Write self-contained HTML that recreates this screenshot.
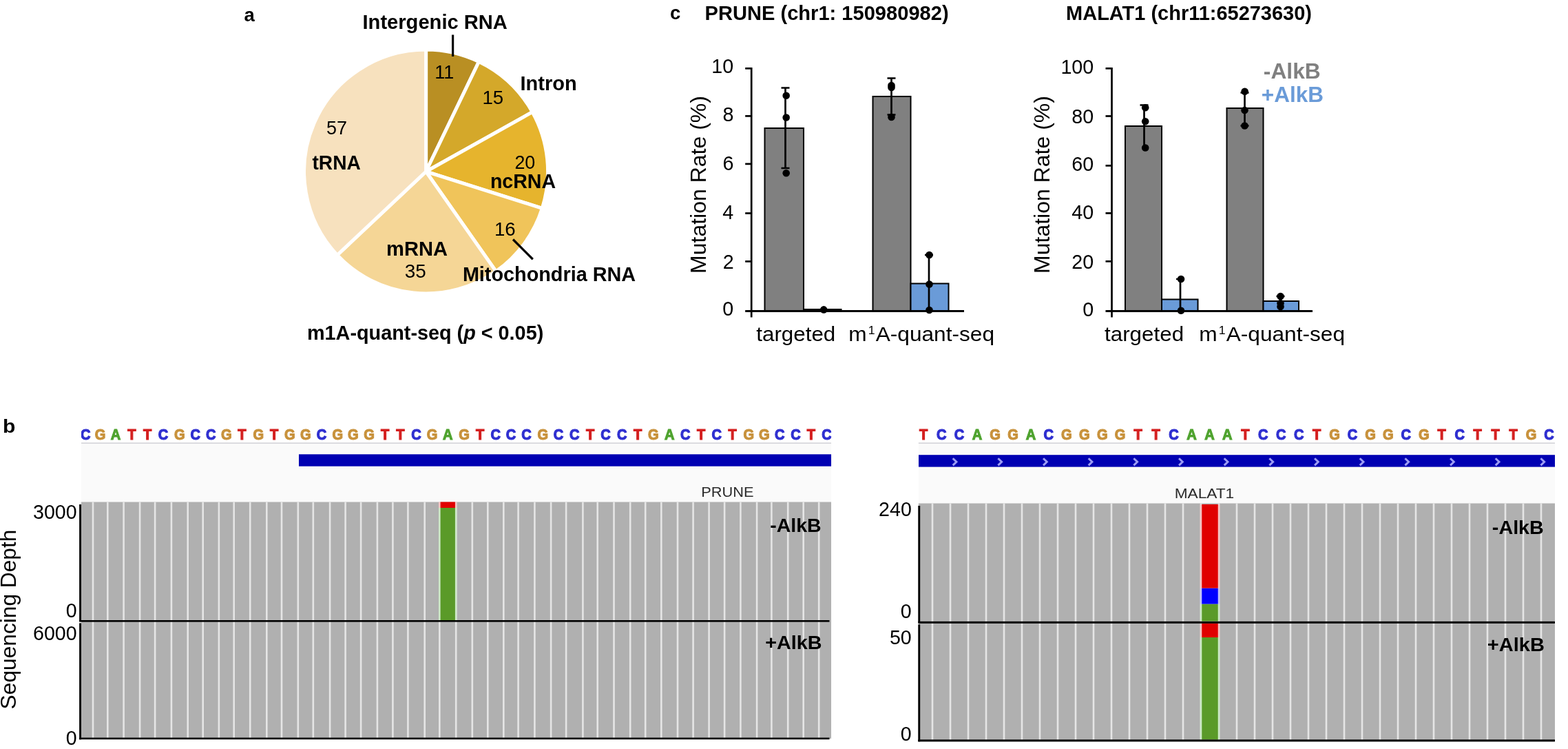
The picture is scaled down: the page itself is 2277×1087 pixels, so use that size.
<!DOCTYPE html>
<html><head><meta charset="utf-8"><title>Figure</title>
<style>
html,body{margin:0;padding:0;background:#fff;}
body{width:2277px;height:1087px;overflow:hidden;}
svg{display:block;font-family:'Liberation Sans',Arial,Helvetica,sans-serif;filter:blur(0.6px);}
</style></head>
<body>
<svg width="2277" height="1087" viewBox="0 0 2277 1087">
<rect width="2277" height="1087" fill="#fff"/>
<text transform="translate(354.48,30.6)" font-size="27.5" font-weight="bold">a</text>
<text transform="translate(4.04,627.5) scale(1.0750,1)" font-size="28" font-weight="bold">b</text>
<text transform="translate(972.90,27.6)" font-size="27.5" font-weight="bold">c</text>
<path d="M618.6,249 L618.60,72.00 A177.0,177.0 0 0 1 695.40,89.53 Z" fill="#B98F23" stroke="#fff" stroke-width="5" stroke-linejoin="miter"/>
<path d="M618.6,249 L695.40,89.53 A177.0,177.0 0 0 1 773.08,162.59 Z" fill="#D4A82A" stroke="#fff" stroke-width="5" stroke-linejoin="miter"/>
<path d="M618.6,249 L773.08,162.59 A177.0,177.0 0 0 1 787.38,302.32 Z" fill="#E6B42D" stroke="#fff" stroke-width="5" stroke-linejoin="miter"/>
<path d="M618.6,249 L787.38,302.32 A177.0,177.0 0 0 1 720.29,393.87 Z" fill="#F0C45A" stroke="#fff" stroke-width="5" stroke-linejoin="miter"/>
<path d="M618.6,249 L720.29,393.87 A177.0,177.0 0 0 1 489.67,370.27 Z" fill="#F5D696" stroke="#fff" stroke-width="5" stroke-linejoin="miter"/>
<path d="M618.6,249 L489.67,370.27 A177.0,177.0 0 0 1 618.60,72.00 Z" fill="#F7E1BE" stroke="#fff" stroke-width="5" stroke-linejoin="miter"/>
<line x1="657.6" y1="50.5" x2="657.6" y2="82" stroke="#000" stroke-width="3.2"/>
<line x1="745" y1="347.5" x2="773.75" y2="376.25" stroke="#000" stroke-width="3.2"/>
<text transform="translate(526.51,41.9) scale(1.0115,1)" font-size="28.8" font-weight="bold">Intergenic RNA</text>
<text transform="translate(755.51,131.4) scale(1.0077,1)" font-size="28.8" font-weight="bold">Intron</text>
<text transform="translate(453.47,246.3) scale(0.9774,1)" font-size="28.8" font-weight="bold">tRNA</text>
<text transform="translate(711.89,272.5) scale(0.9913,1)" font-size="28.8" font-weight="bold">ncRNA</text>
<text transform="translate(561.11,370.5) scale(1.0100,1)" font-size="28.8" font-weight="bold">mRNA</text>
<text transform="translate(671.88,408)" font-size="28.8" font-weight="bold">Mitochondria RNA</text>
<text transform="translate(446,492.5) scale(1.0,1)" font-size="28.8" font-weight="bold" fill="#000">m1A-quant-seq (<tspan font-style="italic">p</tspan> &lt; 0.05)</text>
<text transform="translate(631.28,114) scale(0.9816,1)" font-size="27.5">11</text>
<text transform="translate(700.43,150.5) scale(1.0050,1)" font-size="27.5">15</text>
<text transform="translate(473.92,195) scale(0.9804,1)" font-size="27.5">57</text>
<text transform="translate(747.41,245) scale(0.9756,1)" font-size="27.5">20</text>
<text transform="translate(717.93,342) scale(1.0050,1)" font-size="27.5">16</text>
<text transform="translate(587.63,403) scale(1.0150,1)" font-size="27.5">35</text>
<rect x="1110.5" y="186" width="56.5" height="265.5" fill="#808080" stroke="#000" stroke-width="2"/>
<rect x="1167" y="449" width="54.5" height="2.5" fill="#6A9BD8" stroke="#000" stroke-width="2"/>
<rect x="1267.5" y="140" width="55.0" height="311.5" fill="#808080" stroke="#000" stroke-width="2"/>
<rect x="1322.5" y="411.5" width="55.0" height="40.0" fill="#6A9BD8" stroke="#000" stroke-width="2"/>
<line x1="1091.2" y1="97.95" x2="1091.2" y2="460.5" stroke="#000" stroke-width="2.7"/>
<line x1="1082.2" y1="451.5" x2="1400" y2="451.5" stroke="#000" stroke-width="3"/>
<text transform="translate(1049.27,458.4) scale(0.9900,1)" font-size="29">0</text>
<line x1="1082.2" y1="379.40" x2="1091.2" y2="379.40" stroke="#000" stroke-width="2.7"/>
<text transform="translate(1049.70,389.7) scale(0.9900,1)" font-size="29">2</text>
<line x1="1082.2" y1="309.50" x2="1091.2" y2="309.50" stroke="#000" stroke-width="2.7"/>
<text transform="translate(1049.13,317.7) scale(0.9900,1)" font-size="29">4</text>
<line x1="1082.2" y1="237.90" x2="1091.2" y2="237.90" stroke="#000" stroke-width="2.7"/>
<text transform="translate(1049.41,247.3) scale(0.9900,1)" font-size="29">6</text>
<line x1="1082.2" y1="168.40" x2="1091.2" y2="168.40" stroke="#000" stroke-width="2.7"/>
<text transform="translate(1049.41,176.2) scale(0.9900,1)" font-size="29">8</text>
<line x1="1082.2" y1="99.30" x2="1091.2" y2="99.30" stroke="#000" stroke-width="2.7"/>
<text transform="translate(1033.34,106.0) scale(0.9900,1)" font-size="29">10</text>
<line x1="1140.5" y1="127.5" x2="1140.5" y2="244" stroke="#000" stroke-width="2.7"/>
<line x1="1134.5" y1="127.5" x2="1146.5" y2="127.5" stroke="#000" stroke-width="2.5"/>
<line x1="1134.5" y1="244" x2="1146.5" y2="244" stroke="#000" stroke-width="2.5"/>
<line x1="1294.5" y1="113.5" x2="1294.5" y2="166.5" stroke="#000" stroke-width="2.7"/>
<line x1="1288.5" y1="113.5" x2="1300.5" y2="113.5" stroke="#000" stroke-width="2.5"/>
<line x1="1288.5" y1="166.5" x2="1300.5" y2="166.5" stroke="#000" stroke-width="2.5"/>
<line x1="1349" y1="370" x2="1349" y2="450" stroke="#000" stroke-width="2.7"/>
<line x1="1343" y1="370" x2="1355" y2="370" stroke="#000" stroke-width="2.5"/>
<circle cx="1141.7" cy="138.7" r="5.3" fill="#000"/>
<circle cx="1141.7" cy="170.5" r="5.3" fill="#000"/>
<circle cx="1141.7" cy="251.2" r="5.3" fill="#000"/>
<circle cx="1294.5" cy="124" r="5.3" fill="#000"/>
<circle cx="1294.5" cy="127" r="5.3" fill="#000"/>
<circle cx="1294.5" cy="170" r="5.3" fill="#000"/>
<circle cx="1196.2" cy="449.4" r="5.3" fill="#000"/>
<circle cx="1349.5" cy="370" r="5.3" fill="#000"/>
<circle cx="1349.5" cy="412.6" r="5.3" fill="#000"/>
<circle cx="1349.5" cy="450" r="5.3" fill="#000"/>
<text transform="translate(1024.5,268) rotate(-90)" font-size="32" text-anchor="middle" fill="#000">Mutation Rate (%)</text>
<text transform="translate(1098.23,495.2) scale(1.0351,1)" font-size="30.3">targeted</text>
<text transform="translate(1232.3,495.2) scale(1.045,1)" font-size="30.3" font-weight="normal" fill="#000">m<tspan font-size="17" dy="-10" dx="2">1</tspan><tspan dy="10" dx="1">A-quant-seq</tspan></text>
<text transform="translate(1023.61,29.2) scale(1.0099,1)" font-size="28.8" font-weight="bold">PRUNE (chr1: 150980982)</text>
<rect x="1634" y="183" width="53" height="268.5" fill="#808080" stroke="#000" stroke-width="2"/>
<rect x="1687" y="434.5" width="52.5" height="17.0" fill="#6A9BD8" stroke="#000" stroke-width="2"/>
<rect x="1781.5" y="157" width="53.0" height="294.5" fill="#808080" stroke="#000" stroke-width="2"/>
<rect x="1834.5" y="437" width="51.5" height="14.5" fill="#6A9BD8" stroke="#000" stroke-width="2"/>
<line x1="1614.5" y1="97.95" x2="1614.5" y2="460.5" stroke="#000" stroke-width="2.7"/>
<line x1="1605.5" y1="451.5" x2="1906" y2="451.5" stroke="#000" stroke-width="3"/>
<text transform="translate(1572.27,458.8) scale(0.9900,1)" font-size="29">0</text>
<line x1="1605.5" y1="379.30" x2="1614.5" y2="379.30" stroke="#000" stroke-width="2.7"/>
<text transform="translate(1556.34,390.0) scale(0.9900,1)" font-size="29">20</text>
<line x1="1605.5" y1="309.40" x2="1614.5" y2="309.40" stroke="#000" stroke-width="2.7"/>
<text transform="translate(1556.34,317.5) scale(0.9900,1)" font-size="29">40</text>
<line x1="1605.5" y1="240.40" x2="1614.5" y2="240.40" stroke="#000" stroke-width="2.7"/>
<text transform="translate(1556.34,247.9) scale(0.9900,1)" font-size="29">60</text>
<line x1="1605.5" y1="168.50" x2="1614.5" y2="168.50" stroke="#000" stroke-width="2.7"/>
<text transform="translate(1556.34,179.0) scale(0.9900,1)" font-size="29">80</text>
<line x1="1605.5" y1="99.30" x2="1614.5" y2="99.30" stroke="#000" stroke-width="2.7"/>
<text transform="translate(1540.40,107.3) scale(0.9900,1)" font-size="29">100</text>
<line x1="1661.5" y1="152.5" x2="1661.5" y2="215" stroke="#000" stroke-width="2.7"/>
<line x1="1655.5" y1="152.5" x2="1667.5" y2="152.5" stroke="#000" stroke-width="2.5"/>
<line x1="1807.5" y1="134.5" x2="1807.5" y2="182.5" stroke="#000" stroke-width="2.7"/>
<line x1="1801.5" y1="134.5" x2="1813.5" y2="134.5" stroke="#000" stroke-width="2.5"/>
<line x1="1801.5" y1="182.5" x2="1813.5" y2="182.5" stroke="#000" stroke-width="2.5"/>
<line x1="1714" y1="405" x2="1714" y2="450" stroke="#000" stroke-width="2.7"/>
<line x1="1708" y1="405" x2="1720" y2="405" stroke="#000" stroke-width="2.5"/>
<line x1="1859.5" y1="430" x2="1859.5" y2="445" stroke="#000" stroke-width="2.7"/>
<line x1="1853.5" y1="430" x2="1865.5" y2="430" stroke="#000" stroke-width="2.5"/>
<circle cx="1663.2" cy="156.2" r="5.3" fill="#000"/>
<circle cx="1663.2" cy="176.2" r="5.3" fill="#000"/>
<circle cx="1663.2" cy="214.5" r="5.3" fill="#000"/>
<circle cx="1807.6" cy="132.8" r="5.3" fill="#000"/>
<circle cx="1807.5" cy="160" r="5.3" fill="#000"/>
<circle cx="1807.5" cy="182.5" r="5.3" fill="#000"/>
<circle cx="1715" cy="405" r="5.3" fill="#000"/>
<circle cx="1715" cy="450.7" r="5.3" fill="#000"/>
<circle cx="1859.5" cy="430" r="5.3" fill="#000"/>
<circle cx="1859.5" cy="440" r="5.3" fill="#000"/>
<circle cx="1859.5" cy="445" r="5.3" fill="#000"/>
<text transform="translate(1524,268) rotate(-90)" font-size="32" text-anchor="middle" fill="#000">Mutation Rate (%)</text>
<text transform="translate(1604.03,495.2) scale(1.0351,1)" font-size="30.3">targeted</text>
<text transform="translate(1741.3,495.2) scale(1.045,1)" font-size="30.3" font-weight="normal" fill="#000">m<tspan font-size="17" dy="-10" dx="2">1</tspan><tspan dy="10" dx="1">A-quant-seq</tspan></text>
<text transform="translate(1548.12,29.2) scale(1.0060,1)" font-size="28.8" font-weight="bold">MALAT1 (chr11:65273630)</text>
<text transform="translate(1834.83,114.2) scale(0.9926,1)" font-size="32" font-weight="bold" fill="#808080">-AlkB</text>
<text transform="translate(1831.84,148.1) scale(0.9854,1)" font-size="32" font-weight="bold" fill="#6A9BD8">+AlkB</text>
<clipPath id="cl1"><rect x="118" y="600" width="1089.2" height="500"/></clipPath>
<g clip-path="url(#cl1)">
<rect x="118" y="644" width="1089.2" height="84.5" fill="#FAFAFA"/>
<rect x="118" y="642.2" width="1089.2" height="1.8" fill="#D8D8DC"/>
<text transform="translate(0,637.8) scale(0.92,1)" font-size="21.8" font-weight="bold" text-anchor="middle" stroke-width="1.2"><tspan x="135.16" fill="#2F2FD0" stroke="#2F2FD0">C</tspan><tspan x="158.32" fill="#C8923C" stroke="#C8923C">G</tspan><tspan x="182.55" fill="#4FA32F" stroke="#4FA32F">A</tspan><tspan x="207.99" fill="#D42020" stroke="#D42020">T</tspan><tspan x="232.72" fill="#D42020" stroke="#D42020">T</tspan><tspan x="257.61" fill="#2F2FD0" stroke="#2F2FD0">C</tspan><tspan x="283.48" fill="#C8923C" stroke="#C8923C">G</tspan><tspan x="308.37" fill="#2F2FD0" stroke="#2F2FD0">C</tspan><tspan x="332.93" fill="#2F2FD0" stroke="#2F2FD0">C</tspan><tspan x="357.39" fill="#C8923C" stroke="#C8923C">G</tspan><tspan x="382.01" fill="#D42020" stroke="#D42020">T</tspan><tspan x="407.88" fill="#C8923C" stroke="#C8923C">G</tspan><tspan x="432.77" fill="#D42020" stroke="#D42020">T</tspan><tspan x="457.50" fill="#C8923C" stroke="#C8923C">G</tspan><tspan x="482.39" fill="#C8923C" stroke="#C8923C">G</tspan><tspan x="507.55" fill="#2F2FD0" stroke="#2F2FD0">C</tspan><tspan x="532.99" fill="#C8923C" stroke="#C8923C">G</tspan><tspan x="557.45" fill="#C8923C" stroke="#C8923C">G</tspan><tspan x="582.61" fill="#C8923C" stroke="#C8923C">G</tspan><tspan x="607.77" fill="#D42020" stroke="#D42020">T</tspan><tspan x="631.96" fill="#D42020" stroke="#D42020">T</tspan><tspan x="657.12" fill="#2F2FD0" stroke="#2F2FD0">C</tspan><tspan x="682.07" fill="#C8923C" stroke="#C8923C">G</tspan><tspan x="706.79" fill="#4FA32F" stroke="#4FA32F">A</tspan><tspan x="732.61" fill="#C8923C" stroke="#C8923C">G</tspan><tspan x="757.66" fill="#D42020" stroke="#D42020">T</tspan><tspan x="782.39" fill="#2F2FD0" stroke="#2F2FD0">C</tspan><tspan x="806.47" fill="#2F2FD0" stroke="#2F2FD0">C</tspan><tspan x="830.98" fill="#2F2FD0" stroke="#2F2FD0">C</tspan><tspan x="856.79" fill="#C8923C" stroke="#C8923C">G</tspan><tspan x="881.63" fill="#2F2FD0" stroke="#2F2FD0">C</tspan><tspan x="906.79" fill="#2F2FD0" stroke="#2F2FD0">C</tspan><tspan x="931.58" fill="#D42020" stroke="#D42020">T</tspan><tspan x="956.09" fill="#2F2FD0" stroke="#2F2FD0">C</tspan><tspan x="981.90" fill="#2F2FD0" stroke="#2F2FD0">C</tspan><tspan x="1006.74" fill="#D42020" stroke="#D42020">T</tspan><tspan x="1031.25" fill="#C8923C" stroke="#C8923C">G</tspan><tspan x="1056.68" fill="#4FA32F" stroke="#4FA32F">A</tspan><tspan x="1081.85" fill="#2F2FD0" stroke="#2F2FD0">C</tspan><tspan x="1106.63" fill="#D42020" stroke="#D42020">T</tspan><tspan x="1131.36" fill="#2F2FD0" stroke="#2F2FD0">C</tspan><tspan x="1156.25" fill="#D42020" stroke="#D42020">T</tspan><tspan x="1181.79" fill="#C8923C" stroke="#C8923C">G</tspan><tspan x="1206.25" fill="#C8923C" stroke="#C8923C">G</tspan><tspan x="1230.76" fill="#2F2FD0" stroke="#2F2FD0">C</tspan><tspan x="1255.92" fill="#2F2FD0" stroke="#2F2FD0">C</tspan><tspan x="1280.38" fill="#D42020" stroke="#D42020">T</tspan><tspan x="1304.84" fill="#2F2FD0" stroke="#2F2FD0">C</tspan></text>
<rect x="434" y="659.3" width="773.2" height="17.4" fill="#0000B2"/>
<rect x="118" y="728.5" width="1089.2" height="343.29999999999995" fill="#B0B0B0"/>
<rect x="133.70" y="728.5" width="2.6" height="343.29999999999995" fill="#E5E5E5"/>
<rect x="155.00" y="728.5" width="2.6" height="343.29999999999995" fill="#E5E5E5"/>
<rect x="178.30" y="728.5" width="2.6" height="343.29999999999995" fill="#E5E5E5"/>
<rect x="201.80" y="728.5" width="2.6" height="343.29999999999995" fill="#E5E5E5"/>
<rect x="223.80" y="728.5" width="2.6" height="343.29999999999995" fill="#E5E5E5"/>
<rect x="247.60" y="728.5" width="2.6" height="343.29999999999995" fill="#E5E5E5"/>
<rect x="271.40" y="728.5" width="2.6" height="343.29999999999995" fill="#E5E5E5"/>
<rect x="293.40" y="728.5" width="2.6" height="343.29999999999995" fill="#E5E5E5"/>
<rect x="316.60" y="728.5" width="2.6" height="343.29999999999995" fill="#E5E5E5"/>
<rect x="338.40" y="728.5" width="2.6" height="343.29999999999995" fill="#E5E5E5"/>
<rect x="361.90" y="728.5" width="2.6" height="343.29999999999995" fill="#E5E5E5"/>
<rect x="386.00" y="728.5" width="2.6" height="343.29999999999995" fill="#E5E5E5"/>
<rect x="407.70" y="728.5" width="2.6" height="343.29999999999995" fill="#E5E5E5"/>
<rect x="431.50" y="728.5" width="2.6" height="343.29999999999995" fill="#E5E5E5"/>
<rect x="453.50" y="728.5" width="2.6" height="343.29999999999995" fill="#E5E5E5"/>
<rect x="477.80" y="728.5" width="2.6" height="343.29999999999995" fill="#E5E5E5"/>
<rect x="500.30" y="728.5" width="2.6" height="343.29999999999995" fill="#E5E5E5"/>
<rect x="522.80" y="728.5" width="2.6" height="343.29999999999995" fill="#E5E5E5"/>
<rect x="546.60" y="728.5" width="2.6" height="343.29999999999995" fill="#E5E5E5"/>
<rect x="569.10" y="728.5" width="2.6" height="343.29999999999995" fill="#E5E5E5"/>
<rect x="591.10" y="728.5" width="2.6" height="343.29999999999995" fill="#E5E5E5"/>
<rect x="615.40" y="728.5" width="2.6" height="343.29999999999995" fill="#E5E5E5"/>
<rect x="637.00" y="728.5" width="2.6" height="343.29999999999995" fill="#E5E5E5"/>
<rect x="660.90" y="728.5" width="2.6" height="343.29999999999995" fill="#E5E5E5"/>
<rect x="684.50" y="728.5" width="2.6" height="343.29999999999995" fill="#E5E5E5"/>
<rect x="707.00" y="728.5" width="2.6" height="343.29999999999995" fill="#E5E5E5"/>
<rect x="730.00" y="728.5" width="2.6" height="343.29999999999995" fill="#E5E5E5"/>
<rect x="751.30" y="728.5" width="2.6" height="343.29999999999995" fill="#E5E5E5"/>
<rect x="775.10" y="728.5" width="2.6" height="343.29999999999995" fill="#E5E5E5"/>
<rect x="798.80" y="728.5" width="2.6" height="343.29999999999995" fill="#E5E5E5"/>
<rect x="820.80" y="728.5" width="2.6" height="343.29999999999995" fill="#E5E5E5"/>
<rect x="845.10" y="728.5" width="2.6" height="343.29999999999995" fill="#E5E5E5"/>
<rect x="866.40" y="728.5" width="2.6" height="343.29999999999995" fill="#E5E5E5"/>
<rect x="890.20" y="728.5" width="2.6" height="343.29999999999995" fill="#E5E5E5"/>
<rect x="913.90" y="728.5" width="2.6" height="343.29999999999995" fill="#E5E5E5"/>
<rect x="935.90" y="728.5" width="2.6" height="343.29999999999995" fill="#E5E5E5"/>
<rect x="959.00" y="728.5" width="2.6" height="343.29999999999995" fill="#E5E5E5"/>
<rect x="982.70" y="728.5" width="2.6" height="343.29999999999995" fill="#E5E5E5"/>
<rect x="1005.30" y="728.5" width="2.6" height="343.29999999999995" fill="#E5E5E5"/>
<rect x="1028.30" y="728.5" width="2.6" height="343.29999999999995" fill="#E5E5E5"/>
<rect x="1050.80" y="728.5" width="2.6" height="343.29999999999995" fill="#E5E5E5"/>
<rect x="1074.10" y="728.5" width="2.6" height="343.29999999999995" fill="#E5E5E5"/>
<rect x="1097.80" y="728.5" width="2.6" height="343.29999999999995" fill="#E5E5E5"/>
<rect x="1119.10" y="728.5" width="2.6" height="343.29999999999995" fill="#E5E5E5"/>
<rect x="1142.90" y="728.5" width="2.6" height="343.29999999999995" fill="#E5E5E5"/>
<rect x="1165.40" y="728.5" width="2.6" height="343.29999999999995" fill="#E5E5E5"/>
<rect x="1187.90" y="728.5" width="2.6" height="343.29999999999995" fill="#E5E5E5"/>
<rect x="637.00" y="728.5" width="26.50" height="8.5" fill="#F6C4C4"/>
<rect x="639.60" y="728.5" width="21.30" height="8.5" fill="#E00000"/>
<rect x="637.00" y="737" width="26.50" height="163" fill="#CDE9C6"/>
<rect x="639.60" y="737" width="21.30" height="163" fill="#5A9A28"/>
</g>
<text transform="translate(1018.25,721.4) scale(1.0644,1)" font-size="20.5" fill="#2a2a2a">PRUNE</text>
<rect x="115.1" y="732.0" width="2.9" height="169.29999999999995" fill="#000"/>
<rect x="115.1" y="904.3" width="2.9" height="169.0" fill="#000"/>
<rect x="115.1" y="900.0" width="1089.4" height="2.6" fill="#000"/>
<rect x="115.1" y="1070.5" width="1089.4" height="2.6" fill="#000"/>
<text transform="translate(48.07,753)" font-size="28.6">3000</text>
<text transform="translate(95.83,896.3)" font-size="28.6">0</text>
<text transform="translate(48.07,929)" font-size="28.6">6000</text>
<text transform="translate(95.83,1081)" font-size="28.6">0</text>
<text transform="translate(1118.26,772.4)" font-size="28.5" font-weight="bold">-AlkB</text>
<text transform="translate(1111.25,942.3) scale(1.0103,1)" font-size="28.5" font-weight="bold">+AlkB</text>
<clipPath id="cl2"><rect x="1333.6" y="600" width="924.4000000000001" height="500"/></clipPath>
<g clip-path="url(#cl2)">
<rect x="1333.6" y="644" width="924.4000000000001" height="86.5" fill="#FAFAFA"/>
<rect x="1333.6" y="642.2" width="924.4000000000001" height="1.8" fill="#D8D8DC"/>
<text transform="translate(0,637.8) scale(0.92,1)" font-size="21.8" font-weight="bold" text-anchor="middle" stroke-width="1.2"><tspan x="1457.83" fill="#D42020" stroke="#D42020">T</tspan><tspan x="1486.03" fill="#2F2FD0" stroke="#2F2FD0">C</tspan><tspan x="1514.24" fill="#2F2FD0" stroke="#2F2FD0">C</tspan><tspan x="1542.45" fill="#4FA32F" stroke="#4FA32F">A</tspan><tspan x="1570.65" fill="#C8923C" stroke="#C8923C">G</tspan><tspan x="1598.86" fill="#C8923C" stroke="#C8923C">G</tspan><tspan x="1627.07" fill="#4FA32F" stroke="#4FA32F">A</tspan><tspan x="1655.27" fill="#2F2FD0" stroke="#2F2FD0">C</tspan><tspan x="1683.48" fill="#C8923C" stroke="#C8923C">G</tspan><tspan x="1711.68" fill="#C8923C" stroke="#C8923C">G</tspan><tspan x="1739.89" fill="#C8923C" stroke="#C8923C">G</tspan><tspan x="1768.10" fill="#C8923C" stroke="#C8923C">G</tspan><tspan x="1796.30" fill="#D42020" stroke="#D42020">T</tspan><tspan x="1824.51" fill="#D42020" stroke="#D42020">T</tspan><tspan x="1852.72" fill="#2F2FD0" stroke="#2F2FD0">C</tspan><tspan x="1880.92" fill="#4FA32F" stroke="#4FA32F">A</tspan><tspan x="1909.13" fill="#4FA32F" stroke="#4FA32F">A</tspan><tspan x="1937.34" fill="#4FA32F" stroke="#4FA32F">A</tspan><tspan x="1965.54" fill="#D42020" stroke="#D42020">T</tspan><tspan x="1993.75" fill="#2F2FD0" stroke="#2F2FD0">C</tspan><tspan x="2021.96" fill="#2F2FD0" stroke="#2F2FD0">C</tspan><tspan x="2050.16" fill="#2F2FD0" stroke="#2F2FD0">C</tspan><tspan x="2078.37" fill="#D42020" stroke="#D42020">T</tspan><tspan x="2106.58" fill="#C8923C" stroke="#C8923C">G</tspan><tspan x="2134.78" fill="#2F2FD0" stroke="#2F2FD0">C</tspan><tspan x="2162.99" fill="#C8923C" stroke="#C8923C">G</tspan><tspan x="2191.20" fill="#C8923C" stroke="#C8923C">G</tspan><tspan x="2219.40" fill="#2F2FD0" stroke="#2F2FD0">C</tspan><tspan x="2247.61" fill="#C8923C" stroke="#C8923C">G</tspan><tspan x="2275.82" fill="#D42020" stroke="#D42020">T</tspan><tspan x="2304.02" fill="#2F2FD0" stroke="#2F2FD0">C</tspan><tspan x="2332.23" fill="#D42020" stroke="#D42020">T</tspan><tspan x="2360.43" fill="#D42020" stroke="#D42020">T</tspan><tspan x="2388.64" fill="#D42020" stroke="#D42020">T</tspan><tspan x="2416.85" fill="#C8923C" stroke="#C8923C">G</tspan><tspan x="2445.05" fill="#2F2FD0" stroke="#2F2FD0">C</tspan></text>
<rect x="1334" y="660.1999999999999" width="924" height="17.4" fill="#0000B2"/>
<path d="M1383.70,665.2 L1388.90,670.3 L1383.70,675.4" fill="none" stroke="#9C9CF4" stroke-width="3"/>
<path d="M1449.37,665.2 L1454.57,670.3 L1449.37,675.4" fill="none" stroke="#9C9CF4" stroke-width="3"/>
<path d="M1515.04,665.2 L1520.24,670.3 L1515.04,675.4" fill="none" stroke="#9C9CF4" stroke-width="3"/>
<path d="M1580.71,665.2 L1585.91,670.3 L1580.71,675.4" fill="none" stroke="#9C9CF4" stroke-width="3"/>
<path d="M1646.38,665.2 L1651.58,670.3 L1646.38,675.4" fill="none" stroke="#9C9CF4" stroke-width="3"/>
<path d="M1712.05,665.2 L1717.25,670.3 L1712.05,675.4" fill="none" stroke="#9C9CF4" stroke-width="3"/>
<path d="M1777.72,665.2 L1782.92,670.3 L1777.72,675.4" fill="none" stroke="#9C9CF4" stroke-width="3"/>
<path d="M1843.39,665.2 L1848.59,670.3 L1843.39,675.4" fill="none" stroke="#9C9CF4" stroke-width="3"/>
<path d="M1909.06,665.2 L1914.26,670.3 L1909.06,675.4" fill="none" stroke="#9C9CF4" stroke-width="3"/>
<path d="M1974.73,665.2 L1979.93,670.3 L1974.73,675.4" fill="none" stroke="#9C9CF4" stroke-width="3"/>
<path d="M2040.40,665.2 L2045.60,670.3 L2040.40,675.4" fill="none" stroke="#9C9CF4" stroke-width="3"/>
<path d="M2106.07,665.2 L2111.27,670.3 L2106.07,675.4" fill="none" stroke="#9C9CF4" stroke-width="3"/>
<path d="M2171.74,665.2 L2176.94,670.3 L2171.74,675.4" fill="none" stroke="#9C9CF4" stroke-width="3"/>
<path d="M2237.41,665.2 L2242.61,670.3 L2237.41,675.4" fill="none" stroke="#9C9CF4" stroke-width="3"/>
<rect x="1333.6" y="730.5" width="924.4000000000001" height="344.29999999999995" fill="#B0B0B0"/>
<rect x="1352.70" y="730.5" width="2.6" height="344.29999999999995" fill="#E5E5E5"/>
<rect x="1378.70" y="730.5" width="2.6" height="344.29999999999995" fill="#E5E5E5"/>
<rect x="1404.70" y="730.5" width="2.6" height="344.29999999999995" fill="#E5E5E5"/>
<rect x="1430.70" y="730.5" width="2.6" height="344.29999999999995" fill="#E5E5E5"/>
<rect x="1456.70" y="730.5" width="2.6" height="344.29999999999995" fill="#E5E5E5"/>
<rect x="1482.70" y="730.5" width="2.6" height="344.29999999999995" fill="#E5E5E5"/>
<rect x="1508.70" y="730.5" width="2.6" height="344.29999999999995" fill="#E5E5E5"/>
<rect x="1534.70" y="730.5" width="2.6" height="344.29999999999995" fill="#E5E5E5"/>
<rect x="1560.70" y="730.5" width="2.6" height="344.29999999999995" fill="#E5E5E5"/>
<rect x="1586.70" y="730.5" width="2.6" height="344.29999999999995" fill="#E5E5E5"/>
<rect x="1612.70" y="730.5" width="2.6" height="344.29999999999995" fill="#E5E5E5"/>
<rect x="1638.70" y="730.5" width="2.6" height="344.29999999999995" fill="#E5E5E5"/>
<rect x="1664.70" y="730.5" width="2.6" height="344.29999999999995" fill="#E5E5E5"/>
<rect x="1690.70" y="730.5" width="2.6" height="344.29999999999995" fill="#E5E5E5"/>
<rect x="1716.70" y="730.5" width="2.6" height="344.29999999999995" fill="#E5E5E5"/>
<rect x="1742.70" y="730.5" width="2.6" height="344.29999999999995" fill="#E5E5E5"/>
<rect x="1768.70" y="730.5" width="2.6" height="344.29999999999995" fill="#E5E5E5"/>
<rect x="1794.70" y="730.5" width="2.6" height="344.29999999999995" fill="#E5E5E5"/>
<rect x="1820.70" y="730.5" width="2.6" height="344.29999999999995" fill="#E5E5E5"/>
<rect x="1846.70" y="730.5" width="2.6" height="344.29999999999995" fill="#E5E5E5"/>
<rect x="1872.70" y="730.5" width="2.6" height="344.29999999999995" fill="#E5E5E5"/>
<rect x="1898.70" y="730.5" width="2.6" height="344.29999999999995" fill="#E5E5E5"/>
<rect x="1924.70" y="730.5" width="2.6" height="344.29999999999995" fill="#E5E5E5"/>
<rect x="1950.70" y="730.5" width="2.6" height="344.29999999999995" fill="#E5E5E5"/>
<rect x="1976.70" y="730.5" width="2.6" height="344.29999999999995" fill="#E5E5E5"/>
<rect x="2002.70" y="730.5" width="2.6" height="344.29999999999995" fill="#E5E5E5"/>
<rect x="2028.70" y="730.5" width="2.6" height="344.29999999999995" fill="#E5E5E5"/>
<rect x="2054.70" y="730.5" width="2.6" height="344.29999999999995" fill="#E5E5E5"/>
<rect x="2080.70" y="730.5" width="2.6" height="344.29999999999995" fill="#E5E5E5"/>
<rect x="2106.70" y="730.5" width="2.6" height="344.29999999999995" fill="#E5E5E5"/>
<rect x="2132.70" y="730.5" width="2.6" height="344.29999999999995" fill="#E5E5E5"/>
<rect x="2158.70" y="730.5" width="2.6" height="344.29999999999995" fill="#E5E5E5"/>
<rect x="2184.70" y="730.5" width="2.6" height="344.29999999999995" fill="#E5E5E5"/>
<rect x="2210.70" y="730.5" width="2.6" height="344.29999999999995" fill="#E5E5E5"/>
<rect x="2236.70" y="730.5" width="2.6" height="344.29999999999995" fill="#E5E5E5"/>
<rect x="1742.70" y="732" width="28.60" height="121.79999999999995" fill="#F6C4C4"/>
<rect x="1745.30" y="732" width="23.40" height="121.79999999999995" fill="#E00000"/>
<rect x="1742.70" y="853.8" width="28.60" height="23.0" fill="#C4C4FA"/>
<rect x="1745.30" y="853.8" width="23.40" height="23.0" fill="#0000FF"/>
<rect x="1742.70" y="876.8" width="28.60" height="24.700000000000045" fill="#CDE9C6"/>
<rect x="1745.30" y="876.8" width="23.40" height="24.700000000000045" fill="#5A9A28"/>
<rect x="1742.70" y="904.5" width="28.60" height="20.5" fill="#F6C4C4"/>
<rect x="1745.30" y="904.5" width="23.40" height="20.5" fill="#E00000"/>
<rect x="1742.70" y="925" width="28.60" height="148.20000000000005" fill="#CDE9C6"/>
<rect x="1745.30" y="925" width="23.40" height="148.20000000000005" fill="#5A9A28"/>
</g>
<text transform="translate(1705.68,723.3) scale(1.1071,1)" font-size="20.5" fill="#2a2a2a">MALAT1</text>
<rect x="1333.2999999999997" y="734.0" width="2.9" height="169.29999999999995" fill="#000"/>
<rect x="1333.2999999999997" y="906.3" width="2.9" height="170.0" fill="#000"/>
<rect x="1333.2999999999997" y="901.8" width="924.7" height="3.0" fill="#000"/>
<rect x="1333.2999999999997" y="1073.3" width="924.7" height="3.0" fill="#000"/>
<text transform="translate(1276.08,749)" font-size="28.6">240</text>
<text transform="translate(1307.83,897)" font-size="28.6">0</text>
<text transform="translate(1291.96,934.5)" font-size="28.6">50</text>
<text transform="translate(1307.83,1075)" font-size="28.6">0</text>
<text transform="translate(2166.85,775) scale(1.0075,1)" font-size="28.5" font-weight="bold">-AlkB</text>
<text transform="translate(2159.84,945) scale(1.0179,1)" font-size="28.5" font-weight="bold">+AlkB</text>
<text transform="translate(23.4,899) rotate(-90)" font-size="31.7" text-anchor="middle" fill="#000">Sequencing Depth</text>
</svg>
</body></html>
